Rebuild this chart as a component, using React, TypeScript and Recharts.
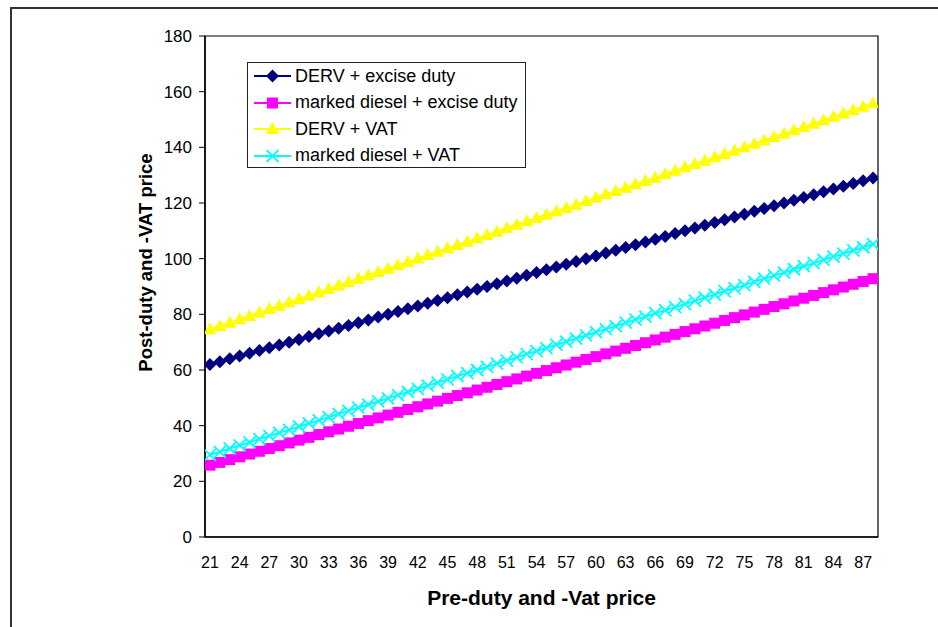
import React from "react";
import {
  LineChart,
  Line,
  XAxis,
  YAxis,
  Legend,
  ReferenceArea,
} from "recharts";

// pre-duty / pre-VAT price (x axis categories)
const prices = [
  21, 22, 23, 24, 25, 26, 27, 28, 29, 30, 31, 32, 33, 34, 35, 36, 37, 38, 39, 40,
  41, 42, 43, 44, 45, 46, 47, 48, 49, 50, 51, 52, 53, 54, 55, 56, 57, 58, 59, 60,
  61, 62, 63, 64, 65, 66, 67, 68, 69, 70, 71, 72, 73, 74, 75, 76, 77, 78, 79, 80,
  81, 82, 83, 84, 85, 86, 87, 88,
];

const dervExcise = [
  62, 63, 64, 65, 66, 67, 68, 69, 70, 71, 72, 73, 74, 75, 76, 77, 78, 79, 80, 81,
  82, 83, 84, 85, 86, 87, 88, 89, 90, 91, 92, 93, 94, 95, 96, 97, 98, 99, 100, 101,
  102, 103, 104, 105, 106, 107, 108, 109, 110, 111, 112, 113, 114, 115, 116, 117, 118, 119, 120, 121,
  122, 123, 124, 125, 126, 127, 128, 129,
];

const markedExcise = [
  25.8, 26.8, 27.8, 28.8, 29.8, 30.8, 31.8, 32.8, 33.8, 34.8, 35.8, 36.8, 37.8, 38.8, 39.8, 40.8, 41.8, 42.8, 43.8, 44.8,
  45.8, 46.8, 47.8, 48.8, 49.8, 50.8, 51.8, 52.8, 53.8, 54.8, 55.8, 56.8, 57.8, 58.8, 59.8, 60.8, 61.8, 62.8, 63.8, 64.8,
  65.8, 66.8, 67.8, 68.8, 69.8, 70.8, 71.8, 72.8, 73.8, 74.8, 75.8, 76.8, 77.8, 78.8, 79.8, 80.8, 81.8, 82.8, 83.8, 84.8,
  85.8, 86.8, 87.8, 88.8, 89.8, 90.8, 91.8, 92.8,
];

const dervVat = [
  74.6, 75.8, 77.0, 78.2, 79.4, 80.7, 81.9, 83.1, 84.3, 85.5, 86.7, 87.9, 89.1, 90.4, 91.6, 92.8, 94.0, 95.2, 96.4, 97.6,
  98.8, 100.1, 101.3, 102.5, 103.7, 104.9, 106.1, 107.3, 108.5, 109.7, 111.0, 112.2, 113.4, 114.6, 115.8, 117.0, 118.2, 119.4, 120.7, 121.9,
  123.1, 124.3, 125.5, 126.7, 127.9, 129.1, 130.4, 131.6, 132.8, 134.0, 135.2, 136.4, 137.6, 138.8, 140.0, 141.3, 142.5, 143.7, 144.9, 146.1,
  147.3, 148.5, 149.7, 151.0, 152.2, 153.4, 154.6, 155.8,
];

const markedVat = [
  29.5, 30.6, 31.8, 32.9, 34.0, 35.2, 36.3, 37.4, 38.5, 39.7, 40.8, 41.9, 43.1, 44.2, 45.3, 46.5, 47.6, 48.7, 49.8, 51.0,
  52.1, 53.2, 54.4, 55.5, 56.6, 57.8, 58.9, 60.0, 61.1, 62.3, 63.4, 64.5, 65.7, 66.8, 67.9, 69.1, 70.2, 71.3, 72.4, 73.6,
  74.7, 75.8, 77.0, 78.1, 79.2, 80.4, 81.5, 82.6, 83.7, 84.9, 86.0, 87.1, 88.3, 89.4, 90.5, 91.7, 92.8, 93.9, 95.0, 96.2,
  97.3, 98.4, 99.6, 100.7, 101.8, 103.0, 104.1, 105.2,
];

const xTickLabels = [21, 24, 27, 30, 33, 36, 39, 42, 45, 48, 51, 54, 57, 60, 63, 66, 69, 72, 75, 78, 81, 84, 87];
const yTicks = [0, 20, 40, 60, 80, 100, 120, 140, 160, 180];

const data = prices.map((p, i) => ({
  price: p,
  dervExcise: dervExcise[i],
  markedExcise: markedExcise[i],
  dervVat: dervVat[i],
  markedVat: markedVat[i],
}));

// category boundaries, Excel puts the small tick marks between categories
const boundaryTicks = [prices[0] - 0.5, ...prices.map((p) => p + 0.5)];
const xDomain = [boundaryTicks[0], boundaryTicks[boundaryTicks.length - 1]];

const FONT = "Arial, 'Liberation Sans', sans-serif";

type Shape = "diamond" | "square" | "triangle" | "cross";

const series: { key: string; name: string; color: string; shape: Shape }[] = [
  { key: "dervExcise", name: "DERV + excise duty", color: "#000080", shape: "diamond" },
  { key: "markedExcise", name: "marked diesel + excise duty", color: "#FF00FF", shape: "square" },
  { key: "dervVat", name: "DERV + VAT", color: "#FFFF00", shape: "triangle" },
  { key: "markedVat", name: "marked diesel + VAT", color: "#00FFFF", shape: "cross" },
];

function Marker({ cx, cy, shape, color }: { cx: number; cy: number; shape: Shape; color: string }) {
  if (shape === "diamond") {
    return <path d={`M${cx},${cy - 6.5}L${cx + 6.5},${cy}L${cx},${cy + 6.5}L${cx - 6.5},${cy}Z`} fill={color} />;
  }
  if (shape === "square") {
    return <rect x={cx - 5.5} y={cy - 5.5} width={11} height={11} fill={color} />;
  }
  if (shape === "triangle") {
    return <path d={`M${cx},${cy - 7}L${cx + 6.5},${cy + 5}L${cx - 6.5},${cy + 5}Z`} fill={color} />;
  }
  return (
    <path
      d={`M${cx - 6},${cy - 6}L${cx + 6},${cy + 6}M${cx + 6},${cy - 6}L${cx - 6},${cy + 6}`}
      stroke={color}
      strokeWidth={1.8}
      fill="none"
    />
  );
}

// keeps the Excel series order instead of the sorted payload
const LegendBox = () => (
  <div
    style={{
      border: "1px solid #222",
      background: "#fff",
      width: 279,
      height: 106,
      fontFamily: FONT,
      fontSize: 18,
      color: "#000",
      boxSizing: "border-box",
    }}
  >
    {series.map((s) => (
      <div key={s.key} style={{ display: "flex", alignItems: "center", height: 26.5 }}>
        <svg width={46} height={20} style={{ marginLeft: 5 }}>
          <line x1={1} y1={10} x2={38} y2={10} stroke={s.color} strokeWidth={2} />
          <Marker cx={19.5} cy={10} shape={s.shape} color={s.color} />
        </svg>
        <span style={{ marginLeft: -4 }}>{s.name}</span>
      </div>
    ))}
  </div>
);

export default function App() {
  return (
    <div style={{ position: "fixed", left: 0, top: 0, width: 938, height: 627, overflow: "hidden", background: "#fff" }}>
      <div
        style={{
          position: "absolute",
          left: 10,
          top: 7,
          width: 940,
          height: 640,
          border: "2px solid #333",
          boxSizing: "border-box",
        }}
      />
      <div style={{ position: "absolute", left: 0, top: 0 }}>
        <LineChart
          width={938}
          height={627}
          data={data}
          margin={{ top: 36, right: 60, bottom: 0, left: 0 }}
          style={{ fontFamily: FONT }}
        >
          <XAxis
            xAxisId="marks"
            type="number"
            dataKey="price"
            domain={xDomain}
            ticks={boundaryTicks}
            tick={false}
            tickSize={5}
            height={0}
            axisLine={false}
            tickLine={{ stroke: "#000" }}
            allowDataOverflow
          />
          <XAxis
            xAxisId="labels"
            type="number"
            dataKey="price"
            domain={xDomain}
            ticks={xTickLabels}
            interval={0}
            tickLine={false}
            tickSize={5}
            tickMargin={15}
            height={90}
            axisLine={{ stroke: "#000", strokeWidth: 1.5 }}
            tick={{ fill: "#000", fontSize: 16, fontFamily: FONT }}
            allowDataOverflow
            label={{
              value: "Pre-duty and -Vat price",
              position: "insideBottom",
              offset: 22,
              style: { fontFamily: FONT, fontSize: 21, fontWeight: "bold", fill: "#000" },
            }}
          />
          <YAxis
            type="number"
            domain={[0, 180]}
            ticks={yTicks}
            interval={0}
            width={205}
            tickSize={6}
            tickMargin={7}
            axisLine={{ stroke: "#000", strokeWidth: 1.5 }}
            tickLine={{ stroke: "#000" }}
            tick={{ fill: "#000", fontSize: 17, fontFamily: FONT }}
            label={{
              content: ({ viewBox }: any) => {
                const cx = viewBox.x + 145;
                const cy = viewBox.y + viewBox.height / 2 - 24;
                return (
                  <text
                    x={cx}
                    y={cy}
                    transform={`rotate(-90, ${cx}, ${cy})`}
                    textAnchor="middle"
                    dominantBaseline="central"
                    style={{ fontFamily: FONT, fontSize: 18.5, fontWeight: "bold", fill: "#000" }}
                  >
                    Post-duty and -VAT price
                  </text>
                );
              },
            }}
          />
          <ReferenceArea
            xAxisId="labels"
            x1={xDomain[0]}
            x2={xDomain[1]}
            y1={0}
            y2={180}
            fill="none"
            stroke="#000"
            strokeWidth={1.2}
          />
          <Legend
            content={<LegendBox />}
            wrapperStyle={{ position: "absolute", left: 247, top: 62, width: 0, height: 0, overflow: "visible" }}
          />
          {series.map((s) => (
            <Line
              key={s.key}
              xAxisId="labels"
              dataKey={s.key}
              name={s.name}
              stroke={s.color}
              strokeWidth={2}
              isAnimationActive={false}
              dot={(props: any) => (
                <Marker key={`${s.key}-${props.index}`} cx={props.cx} cy={props.cy} shape={s.shape} color={s.color} />
              )}
              activeDot={false}
            />
          ))}
        </LineChart>
      </div>
    </div>
  );
}
